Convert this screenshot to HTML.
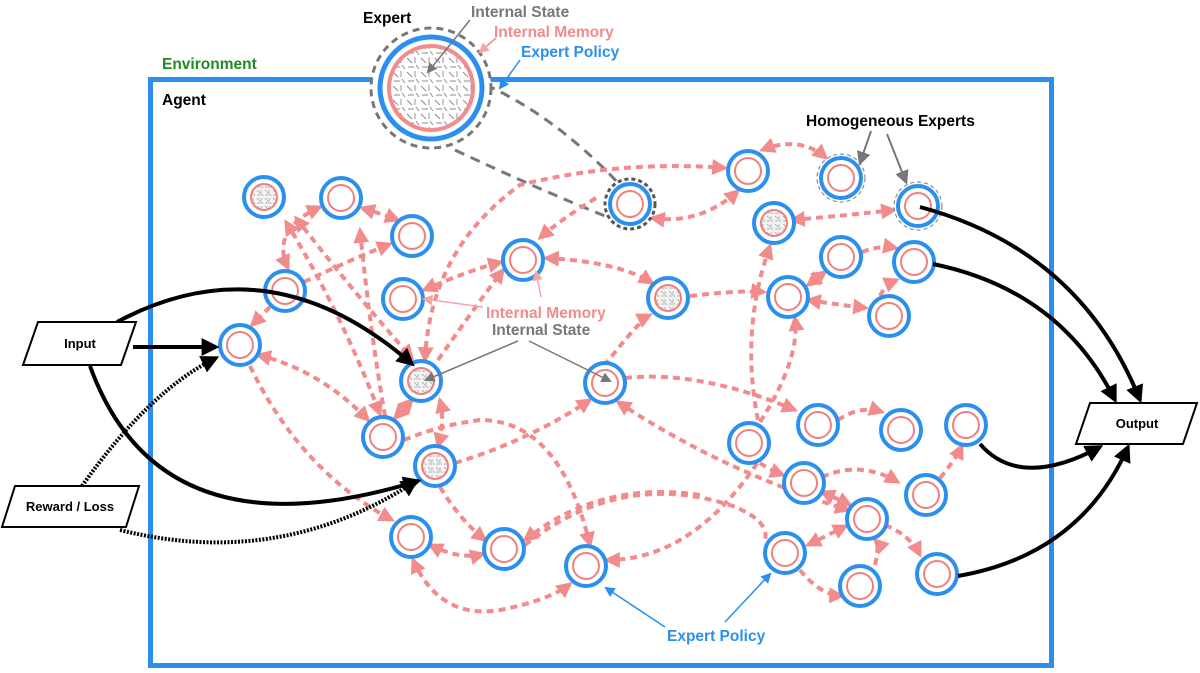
<!DOCTYPE html>
<html><head><meta charset="utf-8"><style>
html,body{margin:0;padding:0;background:#fff;}
svg{display:block;font-family:"Liberation Sans",Verdana,sans-serif;font-weight:bold;}
</style></head><body>
<svg width="1200" height="673" viewBox="0 0 1200 673" xmlns="http://www.w3.org/2000/svg">
<defs>
<marker id="pa" viewBox="0 0 10 10" refX="8" refY="5" markerWidth="4" markerHeight="4" orient="auto-start-reverse" markerUnits="strokeWidth"><path d="M0,0L10,5L0,10z" fill="#f28b8b"/></marker>
<marker id="ba" viewBox="0 0 10 10" refX="8" refY="5" markerWidth="4.5" markerHeight="4.5" orient="auto" markerUnits="strokeWidth"><path d="M0,0L10,5L0,10z" fill="#000"/></marker>
<marker id="ga" viewBox="0 0 10 10" refX="8" refY="5" markerWidth="7" markerHeight="7" orient="auto" markerUnits="strokeWidth"><path d="M0,0L10,5L0,10z" fill="#777"/></marker>
<marker id="la" viewBox="0 0 10 10" refX="8" refY="5" markerWidth="7" markerHeight="7" orient="auto" markerUnits="strokeWidth"><path d="M0,0L10,5L0,10z" fill="#f5a5a5"/></marker>
<marker id="bla" viewBox="0 0 10 10" refX="8" refY="5" markerWidth="7" markerHeight="7" orient="auto" markerUnits="strokeWidth"><path d="M0,0L10,5L0,10z" fill="#2b8ff0"/></marker>
<pattern id="st" width="8" height="8" patternUnits="userSpaceOnUse">
<rect width="8" height="8" fill="#f4f4f4"/><path d="M1,1l3,3M5,1v4M1,6h4M6,5l1,2" stroke="#999" stroke-width="0.7"/>
</pattern>
<pattern id="st2" width="14" height="14" patternUnits="userSpaceOnUse">
<rect width="14" height="14" fill="#fff"/><path d="M1,2l5,5M9,1v6M2,11h6M10,9l3,4" stroke="#888" stroke-width="0.9"/>
</pattern>
<g id="n"><circle r="20" fill="#fff" stroke="#2b8ff0" stroke-width="4"/><circle r="13" fill="none" stroke="#f08080" stroke-width="2"/></g>
<g id="s"><circle r="20" fill="#fff" stroke="#2b8ff0" stroke-width="4"/><circle r="13" fill="url(#st)" stroke="#f08080" stroke-width="2"/></g>
</defs>

<rect x="150.5" y="79.5" width="901" height="586" fill="none" stroke="#2b8ff0" stroke-width="5"/>
<text x="162" y="69" font-size="15.5" fill="#1f8a1f">Environment</text>
<text x="162" y="105" font-size="15.5" fill="#000">Agent</text>

<g stroke="#777" stroke-width="3" stroke-dasharray="10 7" fill="none">
<path d="M455,150 Q540,190 610,218"/>
<path d="M470,78 Q550,110 620,185"/>
</g>

<circle cx="431" cy="88" r="60" fill="#fff" stroke="#777" stroke-width="3" stroke-dasharray="7 5"/>
<circle cx="431" cy="88" r="51" fill="#fff" stroke="#2b8ff0" stroke-width="5"/>
<circle cx="431" cy="88" r="42" fill="url(#st2)" stroke="#f28b8b" stroke-width="4"/>
<text x="363" y="23" font-size="15.5" fill="#000">Expert</text>
<text x="471" y="17" font-size="15.5" fill="#777">Internal State</text>
<text x="494" y="37" font-size="15.5" fill="#f28b8b">Internal Memory</text>
<text x="521" y="57" font-size="15.5" fill="#2b8ff0">Expert Policy</text>
<path d="M470,20 L428,72" stroke="#777" stroke-width="1.5" marker-end="url(#ga)"/>
<path d="M496,38 L480,52" stroke="#f28b8b" stroke-width="1.5" marker-end="url(#la)"/>
<path d="M520,60 L500,88" stroke="#2b8ff0" stroke-width="1.5" marker-end="url(#bla)"/>

<g stroke="#f28b8b" stroke-width="4" stroke-dasharray="7 5" fill="none" marker-start="url(#pa)" marker-end="url(#pa)">
<path d="M320,207 Q270,230 288,268"/>
<path d="M362,208 Q385,215 398,220"/>
<path d="M286,222 Q340,310 380,414"/>
<path d="M296,218 Q360,300 412,358"/>
<path d="M304,282 Q350,260 390,244" marker-start="none"/>
<path d="M270,307 L252,325" marker-start="none"/>
<path d="M424,290 Q470,270 501,262"/>
<path d="M546,258 Q620,262 652,283"/>
<path d="M690,296 Q740,290 764,292" marker-start="none"/>
<path d="M596,198 Q560,220 540,238" marker-start="none"/>
<path d="M652,218 Q700,225 738,191"/>
<path d="M425,360 Q430,250 520,185 Q620,160 725,168"/>
<path d="M762,150 Q800,135 826,158"/>
<path d="M792,220 Q850,215 894,210"/>
<path d="M862,252 Q880,245 896,248" marker-start="none"/>
<path d="M808,285 L825,272"/>
<path d="M808,300 Q840,305 866,308"/>
<path d="M880,296 Q885,285 897,280" marker-start="none"/>
<path d="M758,420 Q740,330 770,246" marker-start="none"/>
<path d="M760,422 Q800,360 795,318" marker-start="none"/>
<path d="M438,360 Q480,300 503,270" marker-start="none"/>
<path d="M258,355 Q320,370 368,420"/>
<path d="M250,366 Q300,470 392,520" marker-start="none"/>
<path d="M395,418 L412,400"/>
<path d="M385,416 Q370,330 360,230" marker-start="none"/>
<path d="M440,400 Q445,420 438,446"/>
<path d="M404,440 Q440,425 480,420 Q560,420 590,545" marker-start="none"/>
<path d="M455,463 Q530,440 590,400" marker-start="none"/>
<path d="M440,487 Q460,520 485,540" marker-start="none"/>
<path d="M430,545 Q460,560 483,554"/>
<path d="M413,560 Q440,620 500,610 Q550,600 570,584"/>
<path d="M604,366 Q640,320 650,315" marker-start="none"/>
<path d="M625,378 Q700,370 795,410" marker-start="none"/>
<path d="M618,402 Q720,470 848,510"/>
<path d="M838,420 Q860,405 882,412" marker-start="none"/>
<path d="M770,443 Q700,560 607,560" marker-start="none"/>
<path d="M760,463 Q770,470 783,475" marker-start="none"/>
<path d="M822,477 Q860,460 898,482" marker-start="none"/>
<path d="M822,492 Q840,500 850,505"/>
<path d="M940,478 Q955,460 962,446" marker-start="none"/>
<path d="M808,545 L846,526"/>
<path d="M800,570 Q820,595 842,596" marker-start="none"/>
<path d="M875,565 Q880,545 875,540" marker-start="none"/>
<path d="M885,525 Q910,535 920,555" marker-start="none"/>
<path d="M525,545 Q620,470 730,505 Q770,520 765,540" marker-start="none" marker-end="none"/>
<path d="M700,495 Q600,480 525,540" marker-start="none"/>
</g>

<use href="#s" x="264" y="197"/>
<use href="#n" x="341" y="198"/>
<use href="#n" x="412" y="236"/>
<use href="#n" x="285" y="291"/>
<use href="#n" x="403" y="299"/>
<use href="#n" x="523" y="260"/>
<circle cx="630" cy="204" r="25" fill="#fff" stroke="#555" stroke-width="3" stroke-dasharray="4 3"/>
<use href="#n" x="630" y="204"/>
<use href="#n" x="748" y="171"/>
<circle cx="841" cy="178" r="24" fill="#fff" stroke="#777" stroke-width="1" stroke-dasharray="4 3"/>
<use href="#n" x="841" y="178"/>
<circle cx="918" cy="206" r="24" fill="#fff" stroke="#777" stroke-width="1" stroke-dasharray="4 3"/>
<use href="#n" x="918" y="206"/>
<use href="#s" x="774" y="223"/>
<use href="#n" x="841" y="257"/>
<use href="#n" x="914" y="262"/>
<use href="#s" x="668" y="298"/>
<use href="#n" x="788" y="297"/>
<use href="#n" x="889" y="316"/>
<use href="#n" x="240" y="345"/>
<use href="#s" x="421" y="381"/>
<use href="#n" x="605" y="383"/>
<use href="#n" x="383" y="437"/>
<use href="#s" x="435" y="466"/>
<use href="#n" x="818" y="425"/>
<use href="#n" x="901" y="430"/>
<use href="#n" x="966" y="425"/>
<use href="#n" x="749" y="443"/>
<use href="#n" x="804" y="483"/>
<use href="#n" x="926" y="495"/>
<use href="#n" x="867" y="519"/>
<use href="#n" x="411" y="537"/>
<use href="#n" x="504" y="549"/>
<use href="#n" x="586" y="566"/>
<use href="#n" x="785" y="553"/>
<use href="#n" x="860" y="586"/>
<use href="#n" x="937" y="574"/>

<text x="806" y="126" font-size="15.5" fill="#000">Homogeneous Experts</text>
<path d="M871,131 L860,163" stroke="#777" stroke-width="2" marker-end="url(#ga)"/>
<path d="M887,134 L906,182" stroke="#777" stroke-width="2" marker-end="url(#ga)"/>
<text x="486" y="318" font-size="15.5" fill="#f28b8b">Internal Memory</text>
<text x="492" y="335" font-size="15.5" fill="#777">Internal State</text>
<path d="M483,307 L424,299" stroke="#f5a5a5" stroke-width="1.5" marker-end="url(#la)"/>
<path d="M541,297 L536,272" stroke="#f5a5a5" stroke-width="1.5" marker-end="url(#la)"/>
<path d="M518,341 L426,380" stroke="#777" stroke-width="1.5" marker-end="url(#ga)"/>
<path d="M529,341 L610,381" stroke="#777" stroke-width="1.5" marker-end="url(#ga)"/>
<text x="667" y="641" font-size="15.5" fill="#2b8ff0">Expert Policy</text>
<path d="M665,627 L606,588" stroke="#2b8ff0" stroke-width="1.5" marker-end="url(#bla)"/>
<path d="M725,622 L770,574" stroke="#2b8ff0" stroke-width="1.5" marker-end="url(#bla)"/>

<g fill="none" stroke="#000">
<path d="M117,322 Q270,240 412,364" stroke-width="4" marker-end="url(#ba)"/>
<path d="M133,347 L216,347" stroke-width="4" marker-end="url(#ba)"/>
<path d="M90,366 Q160,560 418,481" stroke-width="4" marker-end="url(#ba)"/>
<path d="M82,486 Q150,390 216,358" stroke-width="4" stroke-dasharray="2 1.5" marker-end="url(#ba)"/>
<path d="M120,530 Q280,570 416,481" stroke-width="4" stroke-dasharray="2 1.5" marker-end="url(#ba)"/>
<path d="M920,207 Q1080,250 1140,400" stroke-width="4" marker-end="url(#ba)"/>
<path d="M933,264 Q1060,290 1115,400" stroke-width="4" marker-end="url(#ba)"/>
<path d="M980,444 Q1020,490 1100,447" stroke-width="4" marker-end="url(#ba)"/>
<path d="M958,576 Q1080,555 1128,447" stroke-width="4" marker-end="url(#ba)"/>
</g>

<polygon points="38,322 136,322 121,365 23,365" fill="#fff" stroke="#000" stroke-width="2"/>
<text x="80" y="348" font-size="13" text-anchor="middle" fill="#000">Input</text>
<polygon points="15,486 139,486 126,527 2,527" fill="#fff" stroke="#000" stroke-width="2"/>
<text x="70" y="511" font-size="13" text-anchor="middle" fill="#000">Reward / Loss</text>
<polygon points="1090,403 1197,403 1183,444 1076,444" fill="#fff" stroke="#000" stroke-width="2"/>
<text x="1137" y="428" font-size="13" text-anchor="middle" fill="#000">Output</text>
</svg>
</body></html>
